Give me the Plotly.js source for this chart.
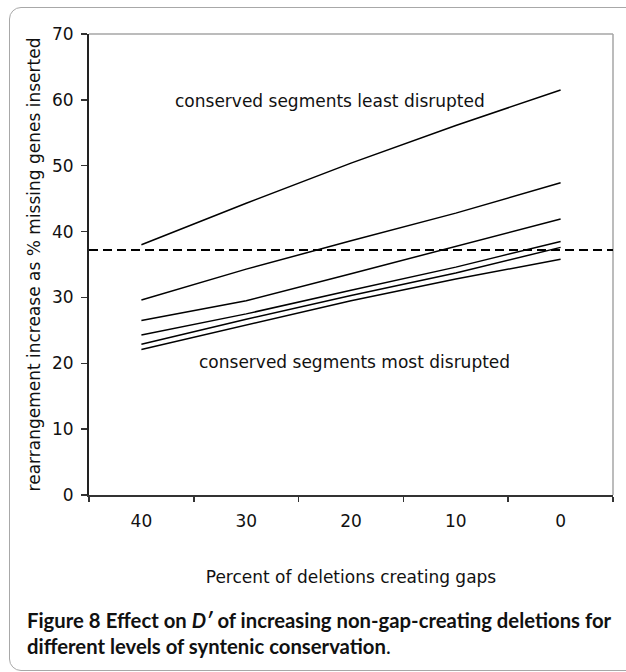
<!DOCTYPE html>
<html>
<head>
<meta charset="utf-8">
<script src="https://cdn.plot.ly/plotly-3.0.1.min.js"></script>
<style>
  html, body { margin: 0; padding: 0; background: #fff; overflow: hidden; }
  #wrap { position: relative; width: 626px; height: 672px; overflow: hidden; }
  #chart { position: absolute; left: 0; top: 0; width: 626px; height: 672px; }
  #frame { position: absolute; left: 9px; top: 7px; width: 640px; height: 662px;
           border: 1.5px solid #a8a8a8; border-radius: 12px; pointer-events: none; }
</style>
</head>
<body>
<div id="wrap">
  <div id="chart"></div>
  <div id="frame"></div>
</div>
<script>
// Categories (percent of deletions creating gaps)
const categories = ["40", "30", "20", "10", "0"];

// Six series, from conserved segments least disrupted (top) to most disrupted (bottom)
const seriesLeast   = [38.0, 44.3, 50.4, 56.1, 61.5];
const seriesSecond  = [29.6, 34.3, 38.6, 42.8, 47.4];
const seriesThird   = [26.5, 29.5, 33.6, 37.7, 41.9];
const seriesFourth  = [24.3, 27.5, 31.1, 34.6, 38.5];
const seriesFifth   = [22.9, 26.7, 30.3, 33.7, 37.6];
const seriesMost    = [22.1, 25.8, 29.5, 32.8, 35.8];

// Reference (dashed) level
const referenceLevel = 37.2;

// Y tick values
const yTicks = [0, 10, 20, 30, 40, 50, 60, 70];

const allSeries = [seriesLeast, seriesSecond, seriesThird, seriesFourth, seriesFifth, seriesMost];

const traces = allSeries.map(s => ({
  type: "scatter",
  mode: "lines",
  x: categories,
  y: s,
  line: { color: "#000", width: 1.5 },
  hoverinfo: "skip",
  showlegend: false
}));

const chartFont = "DejaVu Sans, Verdana, sans-serif";
const capFont = "Lato, 'Noto Sans', sans-serif";
const fs = 17;

const layout = {
  width: 626,
  height: 672,
  margin: { l: 89, r: 13, t: 34, b: 177 },
  paper_bgcolor: "rgba(0,0,0,0)",
  plot_bgcolor: "#fff",
  showlegend: false,
  font: { family: chartFont, size: fs, color: "#111" },
  xaxis: {
    type: "category",
    categoryorder: "array",
    categoryarray: categories,
    range: [-0.5, 4.5],
    tickson: "boundaries",
    ticks: "outside",
    ticklen: 5,
    tickwidth: 1.5,
    tickcolor: "#333",
    showline: true,
    linecolor: "#333",
    linewidth: 2,
    showgrid: false,
    zeroline: false,
    tickfont: { family: chartFont, size: fs, color: "#111" },
    ticklabelstandoff: 10,
    title: { text: "Percent of deletions creating gaps", font: { family: chartFont, size: fs, color: "#111" }, standoff: 41 },
    automargin: false,
    fixedrange: true
  },
  yaxis: {
    range: [0, 70],
    tickvals: yTicks,
    ticktext: yTicks.map(String),
    ticks: "outside",
    ticklen: 6,
    tickwidth: 1.5,
    tickcolor: "#333",
    showline: true,
    linecolor: "#222",
    linewidth: 2,
    showgrid: false,
    zeroline: false,
    tickfont: { family: chartFont, size: fs, color: "#111" },
    ticklabelstandoff: 4,
    title: { text: "rearrangement increase as % missing genes inserted", font: { family: chartFont, size: fs, color: "#111" }, standoff: 7 },
    automargin: false,
    fixedrange: true
  },
  shapes: [
    // top and right frame of the plot area
    { type: "line", xref: "paper", yref: "paper", x0: 0, x1: 1, y0: 1, y1: 1, line: { color: "#a6a6a6", width: 1.5 } },
    { type: "line", xref: "paper", yref: "paper", x0: 1, x1: 1, y0: 0, y1: 1, line: { color: "#a6a6a6", width: 1.5 } },
    // dashed reference level
    { type: "line", xref: "paper", yref: "y", x0: 0, x1: 1, y0: referenceLevel, y1: referenceLevel, line: { color: "#000", width: 2, dash: "9px,5px" } }
  ],
  annotations: [
    { text: "conserved segments least disrupted", xref: "paper", yref: "y", x: 0.459, y: 59.8, showarrow: false, xanchor: "center", yanchor: "middle", font: { family: chartFont, size: fs, color: "#111" } },
    { text: "conserved segments most disrupted", xref: "paper", yref: "y", x: 0.506, y: 20.2, showarrow: false, xanchor: "center", yanchor: "middle", font: { family: chartFont, size: fs, color: "#111" } },
    { text: "<b>Figure 8</b> <b>Effect on <i>D′</i> of increasing non-gap-creating deletions for</b>", xref: "paper", yref: "paper", x: -0.122, y: -0.271, showarrow: false, xanchor: "left", yanchor: "middle", align: "left", font: { family: capFont, size: 20.3, color: "#111" } },
    { text: "<b>different levels of syntenic conservation</b>.", xref: "paper", yref: "paper", x: -0.122, y: -0.328, showarrow: false, xanchor: "left", yanchor: "middle", align: "left", font: { family: capFont, size: 20.3, color: "#111" } }
  ]
};

Plotly.newPlot("chart", traces, layout, { staticPlot: true, displayModeBar: false });
</script>
</body>
</html>
